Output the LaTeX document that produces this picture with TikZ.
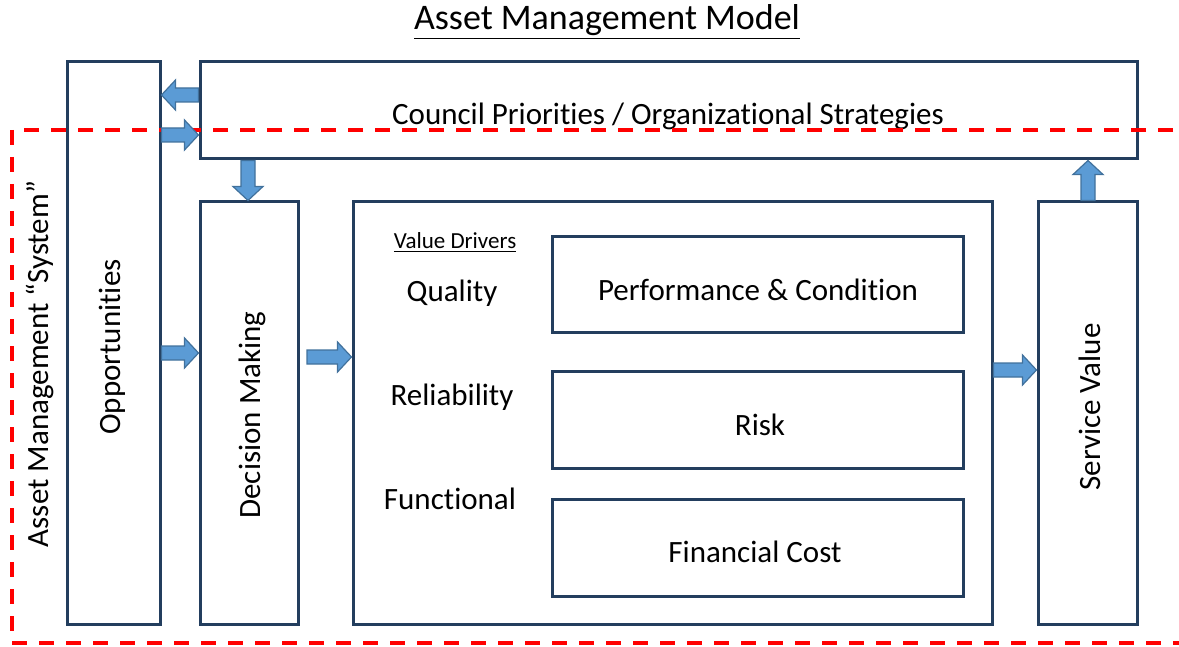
\documentclass[tikz,border=0pt]{standalone}
\usepackage{fontspec}
\setmainfont{Carlito}[Ligatures=NoCommon]
\usepackage{xcolor}
\definecolor{boxline}{RGB}{35,62,94}
\definecolor{arrowfill}{RGB}{91,155,213}
\definecolor{arrowline}{RGB}{65,113,156}
\definecolor{systemred}{RGB}{255,0,0}
\usetikzlibrary{positioning}
\usetikzlibrary{calc}
\usetikzlibrary{fit}

\tikzset{
	box/.style={draw=boxline, line width=1.5pt, inner sep=0pt},
	label/.style={font=\fontsize{15.5}{18}\selectfont, inner sep=0pt},
	blockarrow/.style={draw=arrowline, fill=arrowfill, line width=0.6pt,
		to path={
			($(\tikztostart)!3.5pt!90:(\tikztotarget)$)
			-- ($($(\tikztotarget)!7pt!(\tikztostart)$)!3.5pt!-90:(\tikztostart)$)
			-- ($($(\tikztotarget)!7pt!(\tikztostart)$)!7.5pt!-90:(\tikztostart)$)
			-- (\tikztotarget)
			-- ($($(\tikztotarget)!7pt!(\tikztostart)$)!7.5pt!90:(\tikztostart)$)
			-- ($($(\tikztotarget)!7pt!(\tikztostart)$)!3.5pt!90:(\tikztostart)$)
			-- ($(\tikztostart)!3.5pt!-90:(\tikztotarget)$)
			-- cycle}}
}

\begin{document}
\begin{tikzpicture}[x=0.5pt,y=-0.5pt]
		\useasboundingbox (0,0) rectangle (1179,647);
		
		%outer boxes
		\node[box, fit={(67,62) (160,624)}] (opps) {};
		\node[box, fit={(200,62) (1137,159)}] (council) {};
		\node[box, fit={(200,202) (298,624)}] (decision) {};
		\node[box, fit={(353,202) (992,624)}] (drivers) {};
		\node[box, fit={(1038,202) (1137,624)}] (service) {};
		
		%inner boxes
		\node[box, fit={(552,236) (963,332)}] (perf) {};
		\node[box, fit={(552,371) (963,468)}] (risk) {};
		\node[box, fit={(552,499) (963,596)}] (cost) {};
		
		%title & labels
		\node[font=\fontsize{18}{21}\selectfont, inner sep=0pt] (title) at (607,22) {\underline{Asset Management Model}};
		\node[label] (councillbl) at (668,116) {Council Priorities / Organizational Strategies};
		\node[label, rotate=90] (oppslbl) at (112,347) {Opportunities};
		\node[label, rotate=90] (decisionlbl) at (252,415) {Decision Making};
		\node[label, rotate=90] (servicelbl) at (1090,407) {Service Value};
		\node[label, rotate=90] (systemlbl) at (40,364) {Asset Management “System”};
		\node[label] (perflbl) at (758,290) {Performance \& Condition};
		\node[label] (risklbl) at (760,425) {Risk};
		\node[label] (costlbl) at (755,552) {Financial Cost};
		\node[font=\fontsize{11.5}{13}\selectfont, inner sep=0pt] (driverslbl) at (455,243) {\underline{Value Drivers}};
		\node[label] (quality) at (452,293) {Quality};
		\node[label] (reliability) at (452,397) {Reliability};
		\node[label] (functional) at (450,499) {Functional};
		
		%dashed system boundary
		\draw[systemred, line width=2pt, dash pattern=on 7.5pt off 6pt]
			(1200,130) -- (12,130) -- (12,643) -- (1200,643);
		
		%block arrows
		\draw[blockarrow] (council.west |- 0,95) to (opps.east |- 0,95);
		\draw[blockarrow] (opps.east |- 0,135) to (council.west |- 0,135);
		\draw[blockarrow] (council.south -| 248,0) to (decision.north -| 248,0);
		\draw[blockarrow] (opps.east |- 0,353) to (decision.west |- 0,353);
		\draw[blockarrow] (307,357) to (drivers.west |- 0,357);
		\draw[blockarrow] (drivers.east |- 0,370) to (service.west |- 0,370);
		\draw[blockarrow] (service.north -| 1088,0) to (council.south -| 1088,0);
	\end{tikzpicture}
\end{document}
